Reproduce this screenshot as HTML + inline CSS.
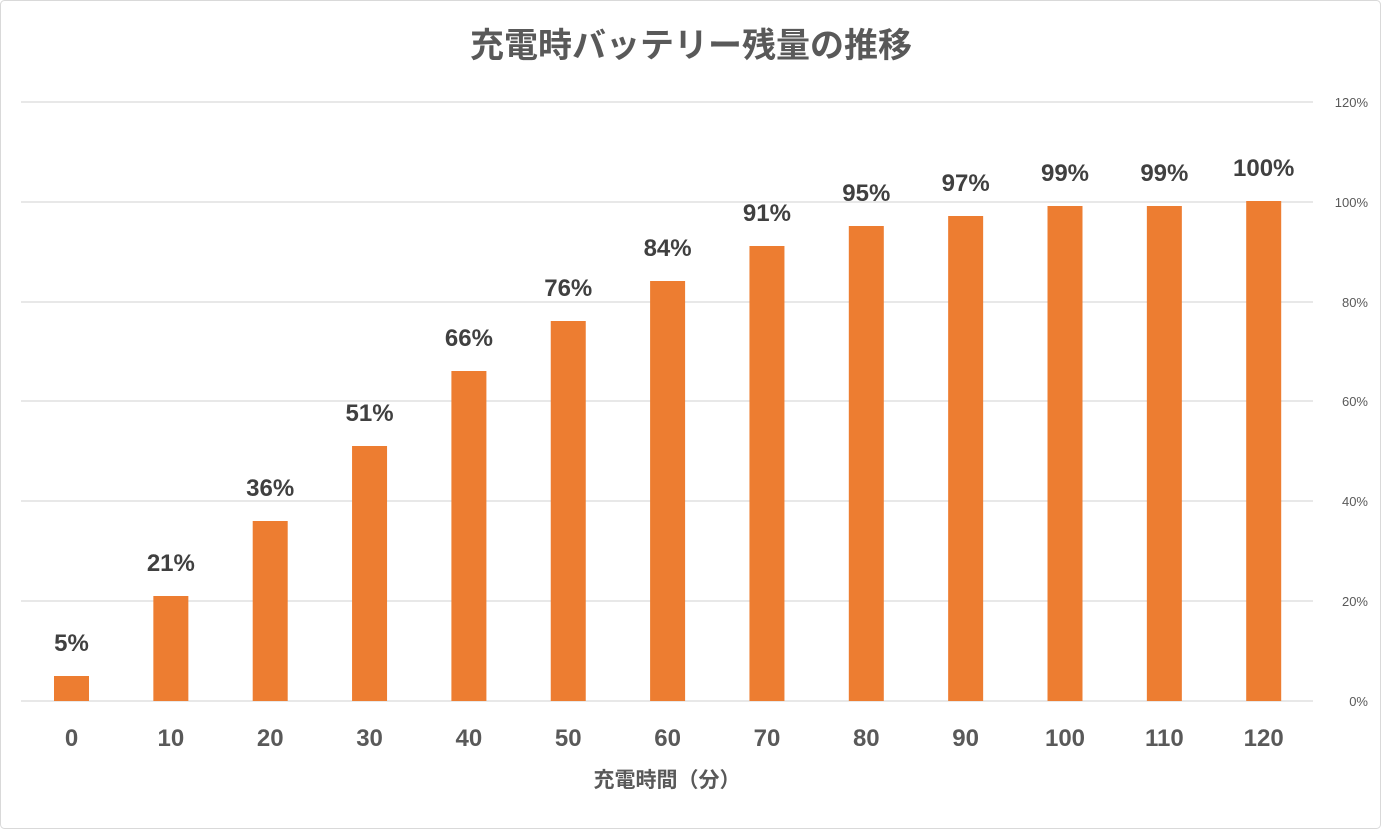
<!DOCTYPE html>
<html><head><meta charset="utf-8"><style>
html,body{margin:0;padding:0;background:#fff;}
svg{display:block;}
</style></head><body>
<svg width="1381" height="829" xmlns="http://www.w3.org/2000/svg">
<rect x="0.5" y="0.5" width="1380" height="828" rx="4" fill="#fff" stroke="#d9d9d9"/>
<text x="691" y="57" text-anchor="middle" font-family="'Liberation Sans','Noto Sans CJK JP',sans-serif" font-weight="bold" font-size="34" fill="#595959">充電時バッテリー残量の推移</text>
<g stroke="#d9d9d9" stroke-width="1.3">
<line x1="21" x2="1313" y1="102" y2="102"/>
<line x1="21" x2="1313" y1="202" y2="202"/>
<line x1="21" x2="1313" y1="302" y2="302"/>
<line x1="21" x2="1313" y1="401" y2="401"/>
<line x1="21" x2="1313" y1="501" y2="501"/>
<line x1="21" x2="1313" y1="601" y2="601"/>
<line x1="21" x2="1313" y1="701" y2="701"/>
</g>
<g font-family="'Liberation Sans',sans-serif" font-size="13" fill="#595959" text-anchor="end">
<text x="1368" y="107">120%</text>
<text x="1368" y="207">100%</text>
<text x="1368" y="307">80%</text>
<text x="1368" y="406">60%</text>
<text x="1368" y="506">40%</text>
<text x="1368" y="606">20%</text>
<text x="1368" y="706">0%</text>
</g>
<g fill="#ED7D31">
<rect x="54" y="676" width="35" height="25"/>
<rect x="153.35" y="596" width="35" height="105"/>
<rect x="252.7" y="521" width="35" height="180"/>
<rect x="352.05" y="446" width="35" height="255"/>
<rect x="451.4" y="371" width="35" height="330"/>
<rect x="550.75" y="321" width="35" height="380"/>
<rect x="650.1" y="281" width="35" height="420"/>
<rect x="749.45" y="246" width="35" height="455"/>
<rect x="848.8" y="226" width="35" height="475"/>
<rect x="948.15" y="216" width="35" height="485"/>
<rect x="1047.5" y="206" width="35" height="495"/>
<rect x="1146.85" y="206" width="35" height="495"/>
<rect x="1246.2" y="201" width="35" height="500"/>
</g>
<g font-family="'Liberation Sans',sans-serif" font-weight="bold" font-size="24" fill="#404040" text-anchor="middle">
<text x="71.5" y="651">5%</text>
<text x="170.85" y="571">21%</text>
<text x="270.2" y="496">36%</text>
<text x="369.55" y="421">51%</text>
<text x="468.9" y="346">66%</text>
<text x="568.25" y="296">76%</text>
<text x="667.6" y="256">84%</text>
<text x="766.95" y="221">91%</text>
<text x="866.3" y="201">95%</text>
<text x="965.65" y="191">97%</text>
<text x="1065" y="181">99%</text>
<text x="1164.35" y="181">99%</text>
<text x="1263.7" y="176">100%</text>
</g>
<g font-family="'Liberation Sans',sans-serif" font-weight="bold" font-size="24" fill="#595959" text-anchor="middle">
<text x="71.5" y="746">0</text>
<text x="170.85" y="746">10</text>
<text x="270.2" y="746">20</text>
<text x="369.55" y="746">30</text>
<text x="468.9" y="746">40</text>
<text x="568.25" y="746">50</text>
<text x="667.6" y="746">60</text>
<text x="766.95" y="746">70</text>
<text x="866.3" y="746">80</text>
<text x="965.65" y="746">90</text>
<text x="1065" y="746">100</text>
<text x="1164.35" y="746">110</text>
<text x="1263.7" y="746">120</text>
</g>
<text x="667" y="787" text-anchor="middle" font-family="'Liberation Sans','Noto Sans CJK JP',sans-serif" font-weight="bold" font-size="21" fill="#595959">充電時間（分）</text>
</svg>
</body></html>
